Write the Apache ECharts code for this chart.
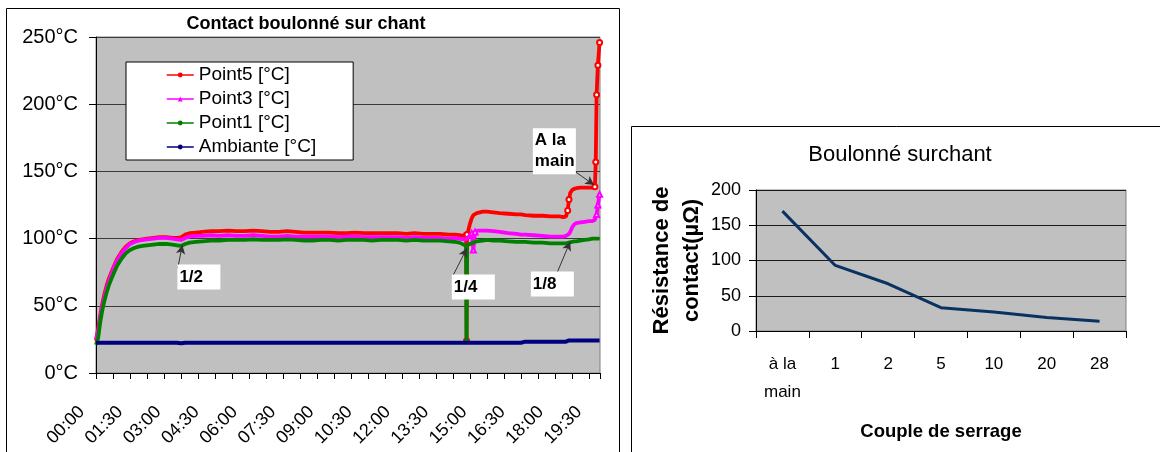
<!DOCTYPE html>
<html><head><meta charset="utf-8">
<script src="https://cdn.jsdelivr.net/npm/echarts@6/dist/echarts.min.js"></script>
<style>html,body{margin:0;padding:0;background:#fff}#c{width:1160px;height:452px}</style>
</head><body><div id="c"></div>
<script>
// ---- Left chart data: elapsed time in minutes and temperatures (°C) ----
const times = [0,5,10,15,20,25,30,40,50,60,
  70,80,90,100,110,120,135,150,165,180,
  190,200,210,220,235,250,270,290,310,330,
  350,370,390,410,430,450,470,490,510,530,
  550,570,590,610,630,650,670,690,710,730,
  750,770,790,810,830,845,855,865,871,872,
  873,876,880,884,888,892,896,900,910,920,
  935,950,970,990,1000,1010,1030,1050,1070,1090,
  1100,1106,1110,1113,1116,1120,1125,1130,1140,1150,
  1160,1168,1172,1174,1176,1178,1181,1185];
const point5 = [24,33,43,52,59,65,70,78,85,90,
  94,96.5,98,99,99.5,100,100.5,101,101,100.5,
  100.5,101,103,104,104.5,105,105.5,105.5,106,105.5,
  105.5,106,105.5,105,105,105.5,105,104.5,104.5,104.5,
  104.5,104,104,104.5,104,104,104,104,104,103.5,
  104,103.5,103.5,103.5,103,103,102.5,102,102.5,24,
  103,106,111,115,117.5,118.5,119,119.5,120,120,
  119.5,119,118.5,118,118,117.5,117,117,116.5,116.5,
  116,116.5,121,129,134,136,137,137.5,138,138,
  138,138,138,138.5,157,207,229,246];
const point3 = [25,31,41,50,57,63,68,77,84,89,
  93,96,97.5,98.5,99,99.5,100,100.5,100.5,100,
  99.5,99,100.5,101.5,102,102,102.5,102,102.5,102,
  102,102.5,102,101.5,101.5,102,101.5,101.5,101.5,101.5,
  101.5,101,101.5,101.5,101,101,101,101,101,100.5,
  101,100.5,100.5,100.5,100,100.5,100,99.5,99.5,100,
  100,101,102.5,104,91.5,105,105.5,106,106,106,
  105.5,105,104,103.5,103,103,102.5,102,101.5,101.5,
  101.5,102,102.5,103.5,105,108,110.5,111.5,112,112.5,
  113,113,113.5,114,115,118,125,133];
const point1 = [21,26,38,47,54,60,65,73,80,85,
  89,91.5,93,94,94.5,95,95.5,96,96,95.5,
  95,94.5,96,97,97.5,98,98.5,98.5,99,99,
  99,99.5,99,99,99,99.5,99,98.5,98.5,99,
  99,98.5,99,99,99,98.5,99,99,99,98.5,
  99,98.5,98.5,98.5,98,97.5,97,95.5,94.5,21.5,
  95,95.5,96,96.5,97,97.5,98,98,98.5,99,
  98.5,98.5,98,97.5,97.5,97.5,97,97,96.5,96.5,
  96.5,96.5,96.5,97,97,97.5,98,98,98.5,99,
  99.5,100,100,100,99.5,99.5,100,100];
const ambiante = [22.5,22.5,22.5,22.5,22.5,22.5,22.5,22.5,22.5,22.5,
  22.5,22.5,22.5,22.5,22.5,22.5,22.5,22.5,22.5,22.5,
  22.5,22.2,22.5,22.5,22.5,22.5,22.5,22.5,22.5,22.5,
  22.5,22.5,22.5,22.5,22.5,22.5,22.5,22.5,22.5,22.5,
  22.5,22.5,22.5,22.5,22.5,22.5,22.5,22.5,22.5,22.5,
  22.5,22.5,22.5,22.5,22.5,22.5,22.5,22.5,22.5,22.5,
  22.5,22.5,22.5,22.5,22.5,22.5,22.5,22.5,22.5,22.5,
  22.5,22.5,22.5,22.5,22.5,23.3,23.3,23.3,23.3,23.3,
  23.3,23.3,24.2,24.2,24.2,24.2,24.2,24.2,24.2,24.2,
  24.2,24.2,24.2,24.2,24.2,24.2,24.2,24.2];
const seriesNames = ['Point5 [°C]','Point3 [°C]','Point1 [°C]','Ambiante [°C]'];
const timeMax = 1186;            // end of the recorded period (min)
const tempAxis = [0, 250, 50];   // min, max, step of the temperature axis

// Annotations: text, box anchor (time, temp), arrow start and tip (time, temp)
const annotations = [
  {text:'1/2', box:[191.5,71.4], from:[192.3,77.9], to:[203.2,95.2]},
  {text:'1/4', box:[837.3,64.0], from:[838.8,71.7], to:[872.7,92.8]},
  {text:'1/8', box:[1023.3,66.2], from:[1084.5,74.2], to:[1115.8,97.7]},
  {text:'A la\nmain', box:[1028,165], from:[1127.6,149.8], to:[1172.3,139.9]}
];

// ---- Right chart data ----
const couples = ['à la\nmain','1','2','5','10','20','28'];
const resistance = [170,93,67,33,27,19,14];
const resAxis = [0, 200, 50];

const FONT = "'Liberation Sans', Arial, Helvetica, sans-serif";
const pad = n => (n < 10 ? '0' : '') + n;

const chart = echarts.init(document.getElementById('c'), null, {renderer:'canvas'});
const colors = ['#ff0000','#ff00ff','#008000','#000080'];
const legendSymbols = ['circle','triangle','circle','circle'];
const pointSymbols = ['emptyCircle','emptyTriangle','none','none'];
const values = [point5, point3, point1, ambiante];

// markers are only distinguishable where the curve moves fast (elsewhere they merge into the band)
const toData = (arr, sym) => times.map((t, i) => {
  const prev = i > 0 ? arr[i-1] : arr[i];
  const next = i < arr.length - 1 ? arr[i+1] : arr[i];
  const steep = Math.abs(arr[i] - prev) > 5 || Math.abs(arr[i] - next) > 5;
  return {value:[t, arr[i]], symbol: (sym !== 'none' && steep && t > 600) ? sym : 'none'};
});

const series = values.map((arr, i) => ({
  name: seriesNames[i], type:'line', xAxisIndex:0, yAxisIndex:0,
  data: toData(arr, pointSymbols[i]), color: colors[i],
  symbol: legendSymbols[i], symbolSize: 5, showSymbol: true,
  lineStyle:{width: i === 3 ? 4 : 3.8, color: colors[i]},
  itemStyle:{color: colors[i]},
  emphasis:{disabled:true}, z: 2 + i
}));

series[3].markLine = {
  silent:true, symbol:['none','arrow'], symbolSize:[7,9],
  lineStyle:{color:'#333', width:1, type:'solid'}, label:{show:false},
  data: annotations.map(a => [{coord:a.from}, {coord:a.to}])
};
series[3].markPoint = {
  silent:true, symbol:'rect', symbolSize:1, itemStyle:{color:'rgba(0,0,0,0)'},
  data: annotations.map(a => ({coord:a.box, name:a.text, value:a.text})),
  label:{show:true, position:'inside', formatter: p => p.name, align:'left', verticalAlign:'middle',
    backgroundColor:'#fff', padding:[2,3,2,2], width:38, lineHeight:21,
    fontFamily:FONT, fontSize:17, fontWeight:'bold', color:'#000'}
};

series.push({
  name:'Résistance', type:'line', xAxisIndex:2, yAxisIndex:1,
  data: resistance, showSymbol:false, symbol:'none',
  lineStyle:{width:3, color:'#0a3260'}, color:'#0a3260', emphasis:{disabled:true}
});

const option = {
  animation:false,
  textStyle:{fontFamily:FONT},
  title:[
    {text:'Contact boulonné sur chant', left:306, top:15, textAlign:'center', padding:0,
     textStyle:{fontFamily:FONT, fontSize:18, fontWeight:'bold', color:'#000'}},
    {text:'Boulonné surchant', left:900, top:144, textAlign:'center', padding:0,
     textStyle:{fontFamily:FONT, fontSize:22, fontWeight:'normal', color:'#000'}}
  ],
  legend:{
    data: seriesNames, orient:'vertical', left:126, top:62,
    padding:[3,37,3,40], itemWidth:27, itemHeight:6, itemGap:4,
    lineStyle:{width:1.5},
    backgroundColor:'#fff', borderColor:'#000', borderWidth:1,
    textStyle:{fontFamily:FONT, fontSize:19, lineHeight:20, color:'#000'},
    selectedMode:false
  },
  grid:[
    {left:96, top:37, width:504, height:336, show:true, backgroundColor:'#c0c0c0', borderColor:'#808080', borderWidth:1},
    {left:756, top:190, width:370, height:141, show:true, backgroundColor:'#c0c0c0', borderColor:'#808080', borderWidth:1}
  ],
  xAxis:[
    {type:'value', gridIndex:0, min:0, max:timeMax, interval:90,
     axisLine:{show:true, onZero:false, lineStyle:{color:'#000', width:1}},
     axisTick:{show:false}, splitLine:{show:false},
     axisLabel:{rotate:45, margin:22, padding:[0,20,0,0], fontFamily:FONT, fontSize:18, color:'#000',
       showMaxLabel:false,
       formatter: v => (v % 90 === 0) ? pad(Math.floor(v/60)) + ':' + pad(v % 60) : ''}},
    {type:'value', gridIndex:0, min:0, max:timeMax, interval:40,
     axisLine:{show:false}, axisLabel:{show:false}, splitLine:{show:false},
     axisTick:{show:true, inside:true, length:6, lineStyle:{color:'#000'}}},
    {type:'category', gridIndex:1, data:couples, boundaryGap:true,
     axisLine:{show:true, onZero:false, lineStyle:{color:'#000'}},
     axisTick:{show:true, length:7, lineStyle:{color:'#000'}},
     axisLabel:{interval:0, margin:19, fontFamily:FONT, fontSize:17, lineHeight:28, color:'#000'},
     name:'Couple de serrage', nameLocation:'middle', nameGap:91,
     nameTextStyle:{fontFamily:FONT, fontSize:18.5, fontWeight:'bold', color:'#000'}}
  ],
  yAxis:[
    {type:'value', gridIndex:0, min:tempAxis[0], max:tempAxis[1], interval:tempAxis[2],
     axisLine:{show:true, lineStyle:{color:'#000'}},
     axisTick:{show:true, length:7, lineStyle:{color:'#000'}},
     axisLabel:{formatter:'{value}°C', margin:18, fontFamily:FONT, fontSize:20, color:'#000'},
     splitLine:{show:true, lineStyle:{color:'#3a3a3a', width:1}}},
    {type:'value', gridIndex:1, min:resAxis[0], max:resAxis[1], interval:resAxis[2],
     axisLine:{show:true, lineStyle:{color:'#000'}},
     axisTick:{show:true, length:7, lineStyle:{color:'#000'}},
     axisLabel:{margin:15, fontFamily:FONT, fontSize:18, color:'#000'},
     splitLine:{show:true, lineStyle:{color:'#1a1a1a', width:1}},
     name:'Résistance de\ncontact(µΩ)', nameLocation:'middle', nameRotate:90, nameGap:42,
     nameTextStyle:{fontFamily:FONT, fontSize:22, fontWeight:'bold', lineHeight:30, color:'#000'}}
  ],
  graphic:[
    {type:'rect', silent:true, shape:{x:6.5, y:8.5, width:613, height:470}, style:{fill:'none', stroke:'#000', lineWidth:1}},
    {type:'rect', silent:true, shape:{x:631.5, y:126.5, width:560, height:400}, style:{fill:'none', stroke:'#000', lineWidth:1}}
  ],
  series: series
};
chart.setOption(option);
</script>
</body></html>
